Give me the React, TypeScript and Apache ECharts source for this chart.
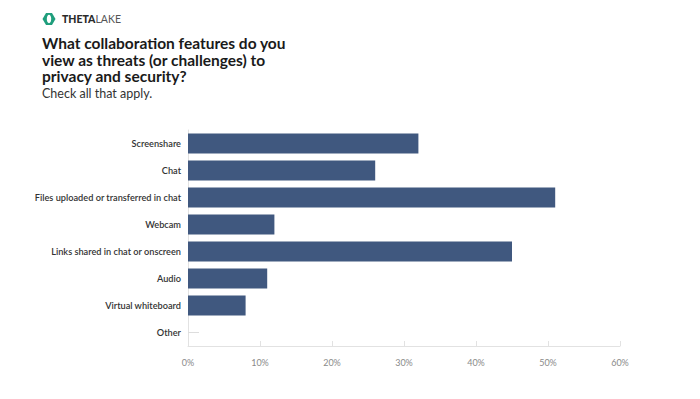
import React, { useEffect, useRef } from "react";
import * as echarts from "echarts";

const categories = [
  "Screenshare",
  "Chat",
  "Files uploaded or transferred in chat",
  "Webcam",
  "Links shared in chat or onscreen",
  "Audio",
  "Virtual whiteboard",
  "Other",
];
const values = [32, 26, 51, 12, 45, 11, 8, 0];
const xTicks = [0, 10, 20, 30, 40, 50, 60];

const titleLines = [
  "What collaboration features do you",
  "view as threats (or challenges) to",
  "privacy and security?",
];
const subtitle = "Check all that apply.";

export default function App() {
  const ref = useRef<HTMLDivElement>(null);
  useEffect(() => {
    if (!ref.current) return;
    const chart = echarts.init(ref.current, null, { renderer: "svg" });
    const font = "Lato, 'Open Sans', sans-serif";
    chart.setOption({
      animation: false,
      backgroundColor: "#ffffff",
      textStyle: { fontFamily: font },
      graphic: [
        {
          type: "polygon",
          shape: {
            points: [
              [46, 13],
              [52, 13],
              [55.5, 19],
              [52, 25],
              [46, 25],
              [42.5, 19],
            ],
          },
          style: { fill: "#1f9e7c" },
        },
        {
          type: "ellipse",
          shape: { cx: 49, cy: 19, rx: 2.2, ry: 4.2 },
          style: { fill: "#ffffff" },
        },
        {
          type: "text",
          x: 62,
          y: 19,
          style: {
            text: "{b|THETA}{l|LAKE}",
            verticalAlign: "middle",
            rich: {
              b: { fontFamily: font, fontSize: 10.5, fontWeight: 900, fill: "#2a2a2a" },
              l: { fontFamily: font, fontSize: 10.5, fontWeight: 400, fill: "#555555" },
            },
          },
        },
        {
          type: "text",
          x: 42,
          y: 34.75,
          style: {
            text: titleLines.join("\n"),
            fontFamily: font,
            fontSize: 15.5,
            lineHeight: 16.5,
            fontWeight: "bold",
            fill: "#1a1a1a",
            verticalAlign: "top",
          },
        },
        {
          type: "text",
          x: 42,
          y: 93,
          style: {
            text: subtitle,
            fontFamily: font,
            fontSize: 12.5,
            lineHeight: 13,
            fill: "#333333",
            verticalAlign: "middle",
          },
        },
      ],
      grid: { left: 188, right: 80, top: 130, bottom: 53 },
      xAxis: {
        type: "value",
        min: 0,
        max: 60,
        interval: 10,
        axisLine: { show: true, lineStyle: { color: "#e2e2e2" } },
        axisTick: { show: true, inside: true, length: 5, lineStyle: { color: "#e2e2e2" } },
        splitLine: { show: false },
        axisLabel: {
          formatter: (v: number) => (xTicks.includes(v) ? v + "%" : ""),
          color: "#8a8a8a",
          fontSize: 9,
          margin: 12,
          fontFamily: font,
        },
      },
      yAxis: {
        type: "category",
        data: categories,
        inverse: true,
        axisLine: { show: true, lineStyle: { color: "#e2e2e2" } },
        axisTick: {
          show: true,
          inside: true,
          alignWithLabel: true,
          length: 11,
          lineStyle: { color: "#dddddd" },
        },
        axisLabel: {
          color: "#333333",
          fontSize: 9.2,
          fontWeight: 600,
          margin: 7,
          fontFamily: font,
        },
      },
      series: [
        {
          type: "bar",
          data: values,
          barWidth: 20,
          itemStyle: { color: "#40587f" },
        },
      ],
    });
    return () => chart.dispose();
  }, []);
  return (
    <div
      ref={ref}
      style={{ position: "fixed", left: 0, top: 0, width: 700, height: 399 }}
    />
  );
}
